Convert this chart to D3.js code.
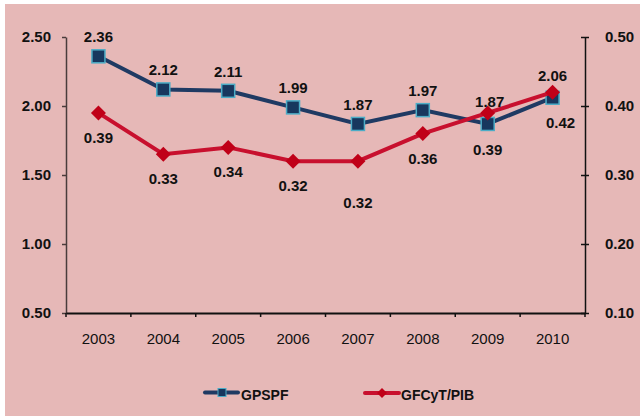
<!DOCTYPE html>
<html>
<head>
<meta charset="utf-8">
<style>
  body { margin: 0; background: #fff; }
  svg { display: block; }
  text { font-family: "Liberation Sans", Arial, sans-serif; fill: #111; }
</style>
</head>
<body>
<script src="https://cdn.jsdelivr.net/npm/d3@7"></script>
<script>
  // data
  var years = ["2003", "2004", "2005", "2006", "2007", "2008", "2009", "2010"];
  var gpspf = [2.36, 2.12, 2.11, 1.99, 1.87, 1.97, 1.87, 2.06];
  var gfcyt = [0.39, 0.33, 0.34, 0.32, 0.32, 0.36, 0.39, 0.42];
  var leftTicks = [0.5, 1.0, 1.5, 2.0, 2.5];
  var rightTicks = [0.1, 0.2, 0.3, 0.4, 0.5];
  var seriesNames = ["GPSPF", "GFCyT/PIB"];

  var W = 640, H = 417;
  var plot = {left: 66, right: 585, top: 37, bottom: 313};

  var svg = d3.select("body").append("svg")
    .attr("width", W)
    .attr("height", H);

  // pink panel
  svg.append("rect")
    .attr("x", 5).attr("y", 4)
    .attr("width", W - 5).attr("height", H - 5)
    .attr("fill", "#e6b8b7");

  var x = d3.scaleBand().domain(years).range([plot.left, plot.right]).padding(0);
  var yL = d3.scaleLinear().domain([0.5, 2.5]).range([plot.bottom, plot.top]);
  var yR = d3.scaleLinear().domain([0.1, 0.5]).range([plot.bottom, plot.top]);
  var cx = function(d, i) { return x(years[i]) + x.bandwidth() / 2; };

  // left axis
  var gl = svg.append("g")
    .attr("transform", "translate(" + plot.left + ",0)")
    .call(d3.axisLeft(yL).tickValues(leftTicks).tickFormat(d3.format(".2f"))
      .tickSize(4).tickSizeOuter(0).tickPadding(11));
  gl.selectAll("path, line").attr("stroke", "#4a3c3c").attr("stroke-width", 1.5);
  gl.selectAll("text").style("font-size", "15px").style("font-weight", "bold")
    .attr("fill", "#111").attr("font-family", null);

  // right axis
  var gr = svg.append("g")
    .attr("transform", "translate(" + plot.right + ",0)")
    .call(d3.axisRight(yR).tickValues(rightTicks).tickFormat(d3.format(".2f"))
      .tickSize(4).tickSizeOuter(0).tickPadding(16));
  gr.selectAll("line").attr("x1", -4).attr("x2", 4);
  gr.selectAll("path, line").attr("stroke", "#111").attr("stroke-width", 1.5);
  gr.selectAll("text").style("font-size", "15px").style("font-weight", "bold")
    .attr("fill", "#111").attr("font-family", null);

  // bottom axis: labels at band centres, ticks on band edges
  var gb = svg.append("g")
    .attr("transform", "translate(0," + plot.bottom + ")")
    .call(d3.axisBottom(x).tickSize(0).tickSizeOuter(0).tickPadding(20));
  gb.select("path").attr("stroke", "#111").attr("stroke-width", 2);
  gb.selectAll("text").attr("font-family", null)
    .style("font-size", "15px").attr("fill", "#111");
  gb.selectAll(".edge")
    .data(years.map(function(d) { return x(d); }).concat([x.range()[1]]))
    .enter().append("line")
    .attr("class", "edge")
    .attr("x1", function(d) { return d; }).attr("x2", function(d) { return d; })
    .attr("y1", 0).attr("y2", 4)
    .attr("stroke", "#111").attr("stroke-width", 1.5);

  var blue = "#1f3a63", blueFill = "#17375e", teal = "#4bacc6";
  var red = "#c8102e", redFill = "#c00018";
  var diamond = function(r) { return "M0," + (-r) + "L" + r + ",0L0," + r + "L" + (-r) + ",0Z"; };

  // GPSPF line
  svg.append("path")
    .datum(gpspf)
    .attr("fill", "none").attr("stroke", blue).attr("stroke-width", 4)
    .attr("d", d3.line().x(cx).y(function(d) { return yL(d); }));

  svg.selectAll(".sq")
    .data(gpspf).enter().append("rect")
    .attr("class", "sq")
    .attr("x", function(d, i) { return cx(d, i) - 6.5; })
    .attr("y", function(d) { return yL(d) - 6.5; })
    .attr("width", 13).attr("height", 13)
    .attr("fill", blueFill).attr("stroke", teal).attr("stroke-width", 1.5);

  // GFCyT/PIB line
  svg.append("path")
    .datum(gfcyt)
    .attr("fill", "none").attr("stroke", red).attr("stroke-width", 4)
    .attr("d", d3.line().x(cx).y(function(d) { return yR(d); }));

  svg.selectAll(".dm")
    .data(gfcyt).enter().append("path")
    .attr("class", "dm")
    .attr("transform", function(d, i) { return "translate(" + cx(d, i) + "," + yR(d) + ")"; })
    .attr("d", diamond(7.5))
    .attr("fill", redFill);

  // data labels (a few nudged as in the original)
  var blueNudge = {6: [2, -3], 7: [0, -3]};
  var redNudge = {4: [0, 17], 6: [0, 12], 7: [8, 6]};

  svg.selectAll(".lb")
    .data(gpspf).enter().append("text")
    .attr("class", "lb")
    .attr("x", function(d, i) { return cx(d, i) + (blueNudge[i] ? blueNudge[i][0] : 0); })
    .attr("y", function(d, i) { return yL(d) - 14 + (blueNudge[i] ? blueNudge[i][1] : 0); })
    .attr("text-anchor", "middle")
    .style("font-size", "15px").style("font-weight", "bold")
    .text(function(d) { return d.toFixed(2); });

  svg.selectAll(".lr")
    .data(gfcyt).enter().append("text")
    .attr("class", "lr")
    .attr("x", function(d, i) { return cx(d, i) + (redNudge[i] ? redNudge[i][0] : 0); })
    .attr("y", function(d, i) { return yR(d) + 30 + (redNudge[i] ? redNudge[i][1] : 0); })
    .attr("text-anchor", "middle")
    .style("font-size", "15px").style("font-weight", "bold")
    .text(function(d) { return d.toFixed(2); });

  // legend
  var lg = svg.append("g");
  lg.append("line").attr("x1", 205).attr("x2", 238).attr("y1", 392.5).attr("y2", 392.5)
    .attr("stroke", blue).attr("stroke-width", 4).attr("stroke-linecap", "round");
  lg.append("rect").attr("x", 218).attr("y", 388.5).attr("width", 8).attr("height", 8)
    .attr("fill", blueFill).attr("stroke", teal).attr("stroke-width", 1);
  lg.append("text").attr("x", 241).attr("y", 400)
    .style("font-size", "14px").style("font-weight", "bold").text(seriesNames[0]);

  lg.append("line").attr("x1", 365).attr("x2", 399).attr("y1", 393).attr("y2", 393)
    .attr("stroke", red).attr("stroke-width", 4).attr("stroke-linecap", "round");
  lg.append("path").attr("transform", "translate(382,393)").attr("d", diamond(5))
    .attr("fill", redFill);
  lg.append("text").attr("x", 401).attr("y", 400)
    .style("font-size", "14px").style("font-weight", "bold").text(seriesNames[1]);
</script>
</body>
</html>
